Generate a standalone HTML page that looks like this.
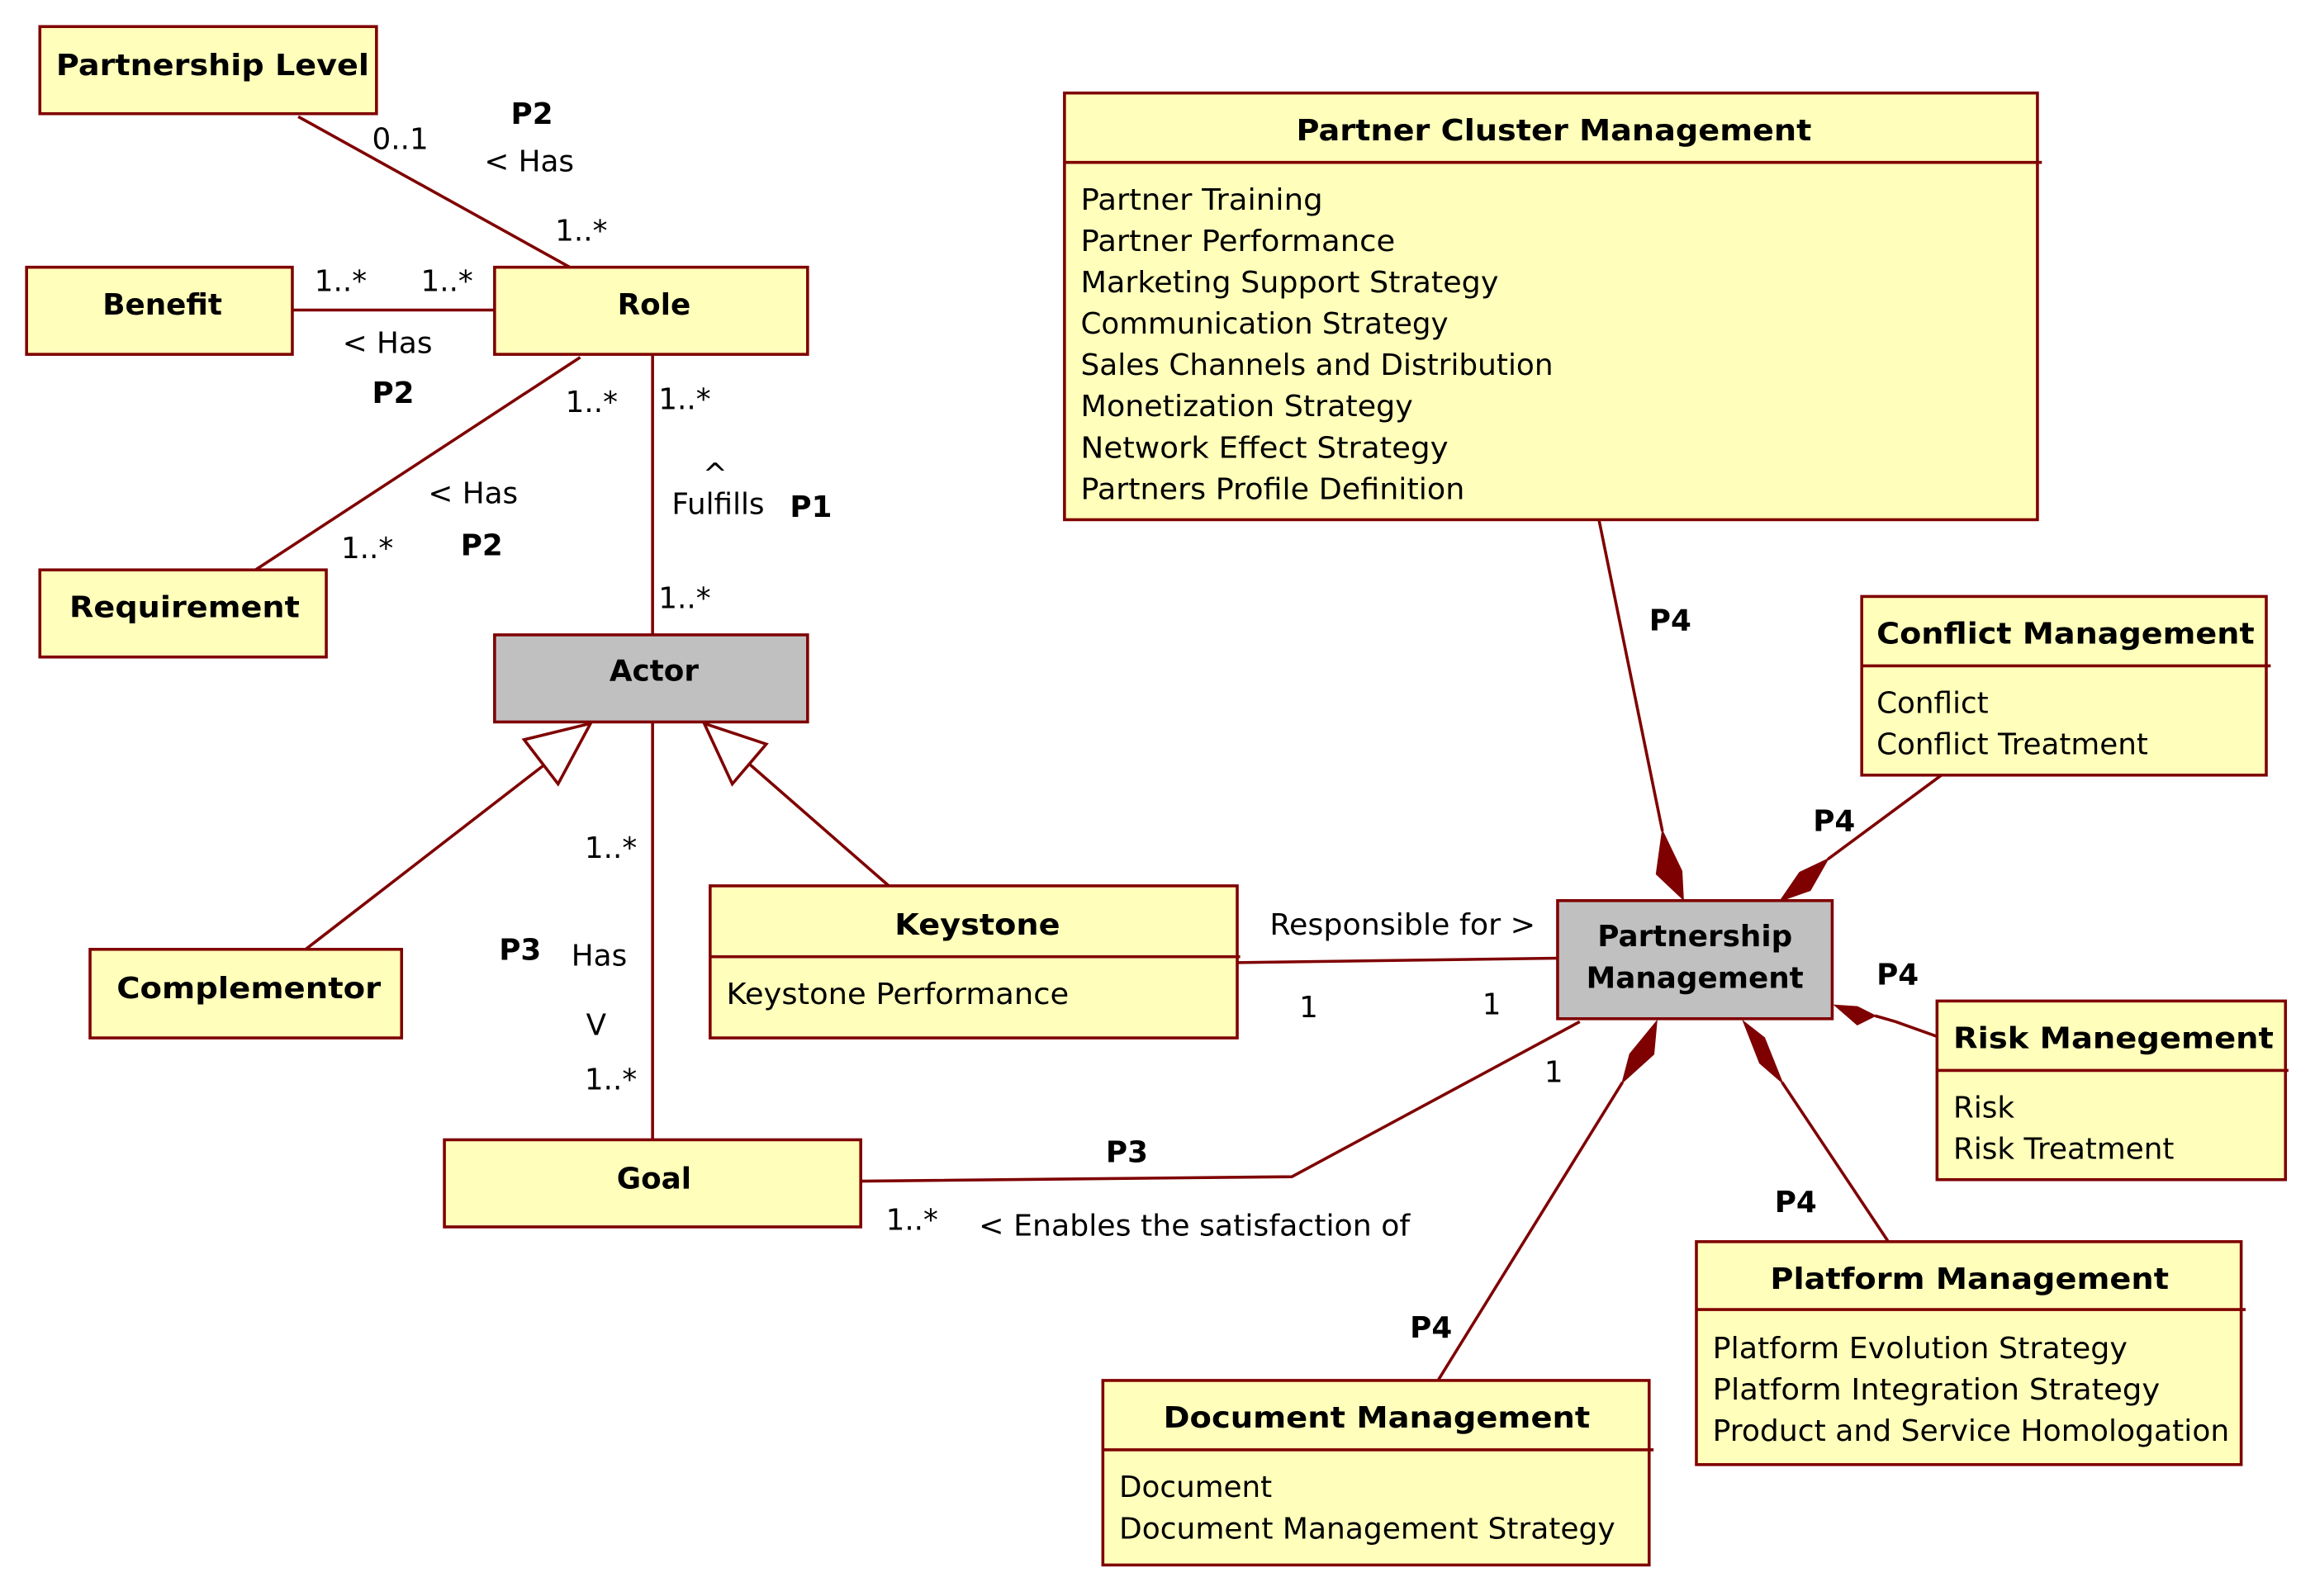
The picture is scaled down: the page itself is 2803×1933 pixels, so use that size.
<!DOCTYPE html>
<html><head><meta charset="utf-8"><style>
html,body{margin:0;padding:0;background:#fff;}
svg{display:block;}
text{font-family:"DejaVu Sans","Liberation Sans",sans-serif;font-size:20px;fill:#000;}
.b{font-weight:bold;}
.m{text-anchor:middle;}
</style></head><body>
<svg width="2803" height="1933" viewBox="0 0 1568 1081" preserveAspectRatio="none" xmlns="http://www.w3.org/2000/svg">
<g stroke="#7f0000" stroke-width="2" fill="none">
<line x1="202" y1="79" x2="386" y2="181"/>
<line x1="198" y1="210" x2="335" y2="210"/>
<line x1="173" y1="386" x2="393" y2="242"/>
<line x1="442" y1="240" x2="442" y2="430"/>
<line x1="442" y1="489" x2="442" y2="772"/>
<line x1="207" y1="643" x2="370" y2="517"/>
<line x1="602" y1="600" x2="507" y2="517"/>
<polyline points="583,800 875,797 1070,692"/>
<line x1="838" y1="652" x2="1055" y2="649"/>
<line x1="1083" y1="352" x2="1126" y2="563"/>
<line x1="1315" y1="525" x2="1238" y2="582"/>
<polyline points="1312,702 1284,692 1270,688"/>
<line x1="1279" y1="841" x2="1207" y2="733"/>
<line x1="974" y1="935" x2="1099" y2="733"/>
</g>
<g stroke="#7f0000" stroke-width="2" fill="#fff">
<polygon points="400,490 355,501 378,531"/>
<polygon points="477,490 519,504 496,531"/>
</g>
<g fill="#7f0000" stroke="#7f0000" stroke-width="1">
<polygon points="1126,563 1139,590 1140,609 1122,592"/>
<polygon points="1238,582 1226,603 1206,610 1219,591"/>
<polygon points="1270,688 1258,682 1243,681 1258,694"/>
<polygon points="1181,692 1195,703 1207,733 1192,720"/>
<polygon points="1122,692 1120,714 1099,733 1104,714"/>
</g>
<g stroke="#7f0000" stroke-width="2">
<rect x="27" y="18" width="228" height="59" fill="#ffffbb"/>
<rect x="18" y="181" width="180" height="59" fill="#ffffbb"/>
<rect x="335" y="181" width="212" height="59" fill="#ffffbb"/>
<rect x="27" y="386" width="194" height="59" fill="#ffffbb"/>
<rect x="335" y="430" width="212" height="59" fill="#c0c0c0"/>
<rect x="61" y="643" width="211" height="60" fill="#ffffbb"/>
<rect x="481" y="600" width="357" height="103" fill="#ffffbb"/>
<line x1="481" y1="648" x2="840" y2="648"/>
<rect x="301" y="772" width="282" height="59" fill="#ffffbb"/>
<rect x="1055" y="610" width="186" height="80" fill="#c0c0c0"/>
<rect x="721" y="63" width="659" height="289" fill="#ffffbb"/>
<line x1="721" y1="110" x2="1383" y2="110"/>
<rect x="1261" y="404" width="274" height="121" fill="#ffffbb"/>
<line x1="1261" y1="451" x2="1538" y2="451"/>
<rect x="1312" y="678" width="236" height="121" fill="#ffffbb"/>
<line x1="1312" y1="725" x2="1550" y2="725"/>
<rect x="1149" y="841" width="369" height="151" fill="#ffffbb"/>
<line x1="1149" y1="887" x2="1521" y2="887"/>
<rect x="747" y="935" width="370" height="125" fill="#ffffbb"/>
<line x1="747" y1="982" x2="1120" y2="982"/>
</g>
<text class="b" x="38" y="51" textLength="212" lengthAdjust="spacingAndGlyphs">Partnership Level</text>
<text class="b m" x="110" y="213">Benefit</text>
<text class="b m" x="443" y="213">Role</text>
<text class="b" x="47" y="418" textLength="156" lengthAdjust="spacingAndGlyphs">Requirement</text>
<text class="b m" x="443" y="461">Actor</text>
<text class="b" x="79" y="676" textLength="179" lengthAdjust="spacingAndGlyphs">Complementor</text>
<text class="b" x="606" y="633" textLength="112" lengthAdjust="spacingAndGlyphs">Keystone</text>
<text x="492" y="680" textLength="232" lengthAdjust="spacingAndGlyphs">Keystone Performance</text>
<text class="b m" x="443" y="805">Goal</text>
<text class="b m" x="1148" y="641">Partnership</text>
<text class="b m" x="1148" y="669">Management</text>
<text class="b" x="878" y="95" textLength="349" lengthAdjust="spacingAndGlyphs">Partner Cluster Management</text>
<text x="732" y="142" textLength="164" lengthAdjust="spacingAndGlyphs">Partner Training</text>
<text x="732" y="170" textLength="213" lengthAdjust="spacingAndGlyphs">Partner Performance</text>
<text x="732" y="198" textLength="283" lengthAdjust="spacingAndGlyphs">Marketing Support Strategy</text>
<text x="732" y="226" textLength="249" lengthAdjust="spacingAndGlyphs">Communication Strategy</text>
<text x="732" y="254" textLength="320" lengthAdjust="spacingAndGlyphs">Sales Channels and Distribution</text>
<text x="732" y="282" textLength="225" lengthAdjust="spacingAndGlyphs">Monetization Strategy</text>
<text x="732" y="310" textLength="249" lengthAdjust="spacingAndGlyphs">Network Effect Strategy</text>
<text x="732" y="338" textLength="260" lengthAdjust="spacingAndGlyphs">Partners Profile Definition</text>
<text class="b" x="1271" y="436" textLength="256" lengthAdjust="spacingAndGlyphs">Conflict Management</text>
<text x="1271" y="483">Conflict</text>
<text x="1271" y="511">Conflict Treatment</text>
<text class="b" x="1323" y="710" textLength="217" lengthAdjust="spacingAndGlyphs">Risk Manegement</text>
<text x="1323" y="757">Risk</text>
<text x="1323" y="785">Risk Treatment</text>
<text class="b" x="1199" y="873" textLength="270" lengthAdjust="spacingAndGlyphs">Platform Management</text>
<text x="1160" y="920" textLength="281" lengthAdjust="spacingAndGlyphs">Platform Evolution Strategy</text>
<text x="1160" y="948" textLength="303" lengthAdjust="spacingAndGlyphs">Platform Integration Strategy</text>
<text x="1160" y="976" textLength="350" lengthAdjust="spacingAndGlyphs">Product and Service Homologation</text>
<text class="b" x="788" y="967" textLength="289" lengthAdjust="spacingAndGlyphs">Document Management</text>
<text x="758" y="1014">Document</text>
<text x="758" y="1042" textLength="336" lengthAdjust="spacingAndGlyphs">Document Management Strategy</text>
<text class="b" x="346" y="84">P2</text>
<text x="252" y="101">0..1</text>
<text x="328" y="116">&lt; Has</text>
<text x="376" y="163">1..*</text>
<text x="213" y="197">1..*</text>
<text x="285" y="197">1..*</text>
<text x="232" y="239">&lt; Has</text>
<text class="b" x="252" y="273">P2</text>
<text x="383" y="279">1..*</text>
<text x="290" y="341">&lt; Has</text>
<text x="231" y="378">1..*</text>
<text class="b" x="312" y="376">P2</text>
<text x="446" y="277">1..*</text>
<text x="476" y="328">^</text>
<text x="455" y="348">Fulfills</text>
<text class="b" x="535" y="350">P1</text>
<text x="446" y="412">1..*</text>
<text x="396" y="581">1..*</text>
<text class="b" x="338" y="650">P3</text>
<text x="387" y="654">Has</text>
<text x="397" y="701">V</text>
<text x="396" y="738">1..*</text>
<text class="b" x="749" y="787">P3</text>
<text x="600" y="833">1..*</text>
<text x="663" y="837" textLength="292" lengthAdjust="spacingAndGlyphs">&lt; Enables the satisfaction of</text>
<text x="1046" y="733">1</text>
<text x="860" y="633" textLength="180" lengthAdjust="spacingAndGlyphs">Responsible for &gt;</text>
<text x="880" y="689">1</text>
<text x="1004" y="687">1</text>
<text class="b" x="1117" y="427">P4</text>
<text class="b" x="1228" y="563">P4</text>
<text class="b" x="1271" y="667">P4</text>
<text class="b" x="1202" y="821">P4</text>
<text class="b" x="955" y="906">P4</text>
</svg>
</body></html>
